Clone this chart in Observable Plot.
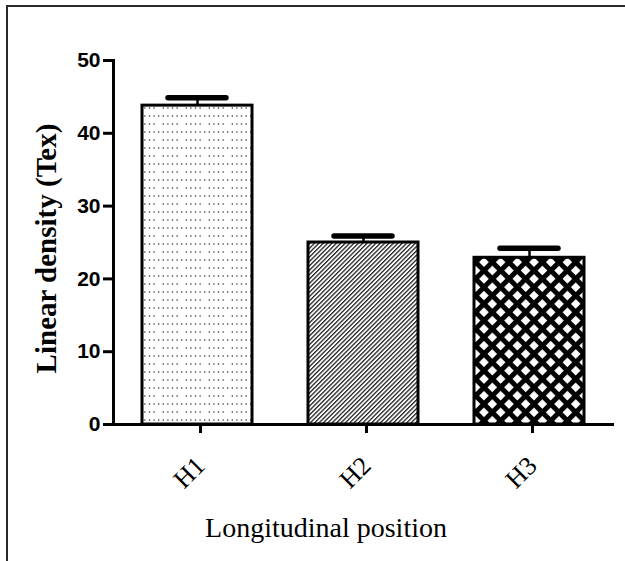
<!DOCTYPE html>
<html>
<head>
<meta charset="utf-8">
<script src="https://cdn.jsdelivr.net/npm/d3@7"></script>
<script src="https://cdn.jsdelivr.net/npm/@observablehq/plot@0.6"></script>
<style>
  html, body { margin: 0; padding: 0; background: white; }
  #wrap { position: relative; width: 625px; height: 561px; overflow: hidden; }
  #border { position: absolute; left: 6px; top: 5px; width: 640px; height: 600px;
            border-top: 2px solid #2a2a2a; border-left: 2px solid #2a2a2a; pointer-events: none; }
</style>
</head>
<body>
<div id="wrap"><div id="border"></div></div>
<script>
const categories = ["H1", "H2", "H3"];
const means = [43.8, 25.0, 22.9];
const errors = [1.1, 0.9, 1.3];
const patterns = ["dots", "hatch", "cross"];
const yTicks = [0, 10, 20, 30, 40, 50];
const yLabel = "Linear density (Tex)";
const xLabel = "Longitudinal position";

const data = categories.map((c, i) => ({
  cat: c, mean: means[i], err: errors[i], pat: `url(#pat-${patterns[i]})`
}));

function defsMark() {
  const ns = "http://www.w3.org/2000/svg";
  const g = document.createElementNS(ns, "g");
  g.innerHTML = `
  <defs>
    <pattern id="pat-dots" patternUnits="userSpaceOnUse" width="23" height="16">
      <rect width="23" height="16" fill="white"/>
      <circle cx="2.3" cy="4" r="0.8" fill="#333"/>
      <circle cx="6.9" cy="4" r="0.8" fill="#333"/>
      <circle cx="11.5" cy="4" r="0.8" fill="#333"/>
      <circle cx="16.1" cy="4" r="0.8" fill="#333"/>
      <circle cx="20.7" cy="4" r="0.8" fill="#333"/>
      <circle cx="2.3" cy="12" r="0.8" fill="#333"/>
      <circle cx="6.9" cy="12" r="0.8" fill="#333"/>
      <circle cx="11.5" cy="12" r="0.8" fill="#333"/>
      <circle cx="16.1" cy="12" r="0.8" fill="#333"/>
    </pattern>
    <pattern id="pat-hatch" patternUnits="userSpaceOnUse" width="3.1" height="10" patternTransform="rotate(45)">
      <rect width="3.1" height="10" fill="white"/>
      <rect width="1.3" height="10" fill="#222"/>
    </pattern>
    <pattern id="pat-cross" patternUnits="userSpaceOnUse" width="11.8" height="11.8" patternTransform="rotate(45)">
      <rect width="11.8" height="11.8" fill="white"/>
      <rect width="11.8" height="5" fill="black"/>
      <rect width="5" height="11.8" fill="black"/>
    </pattern>
  </defs>`;
  return g;
}

const chart = Plot.plot({
  width: 625,
  height: 561,
  marginTop: 60,
  marginBottom: 137,
  marginLeft: 113,
  marginRight: 13,
  style: { fontFamily: "Liberation Serif", background: "transparent", color: "black" },
  x: { domain: categories, paddingInner: 0.34, paddingOuter: 0.17, label: null },
  y: { domain: [0, 50], label: null },
  color: { type: "identity" },
  marks: [
    defsMark,
    Plot.barY(data, { x: "cat", y: "mean", fill: "pat", stroke: "black", strokeWidth: 3 }),
    Plot.ruleX(data, { x: "cat", y1: "mean", y2: d => d.mean + d.err, strokeWidth: 2.5 }),
    Plot.tickY(data, { x: "cat", y: d => d.mean + d.err, insetLeft: 26, insetRight: 26, strokeWidth: 5.5, strokeLinecap: "round" }),
    Plot.axisY({ ticks: yTicks, tickSize: 10, tickPadding: 3, strokeWidth: 3,
      fontFamily: "Liberation Sans", fontWeight: "bold", fontSize: 21, label: null }),
    Plot.axisX({ tickSize: 9, strokeWidth: 3, tickRotate: -45, textAnchor: "end", lineAnchor: "middle",
      tickPadding: 28, dx: 3, fontSize: 26, fontFamily: "Liberation Serif", label: null }),
    Plot.frame({ anchor: "left", strokeWidth: 3 }),
    Plot.frame({ anchor: "bottom", strokeWidth: 3 }),
    Plot.text([yLabel], { frameAnchor: "left", rotate: -90, dx: -67, dy: 6, fontSize: 29,
      fontWeight: "bold", lineAnchor: "middle", textAnchor: "middle" }),
    Plot.text([xLabel], { frameAnchor: "bottom", dy: 112, dx: -37, fontSize: 28, lineAnchor: "bottom" })
  ]
});
document.getElementById("wrap").prepend(chart);
</script>
</body>
</html>
